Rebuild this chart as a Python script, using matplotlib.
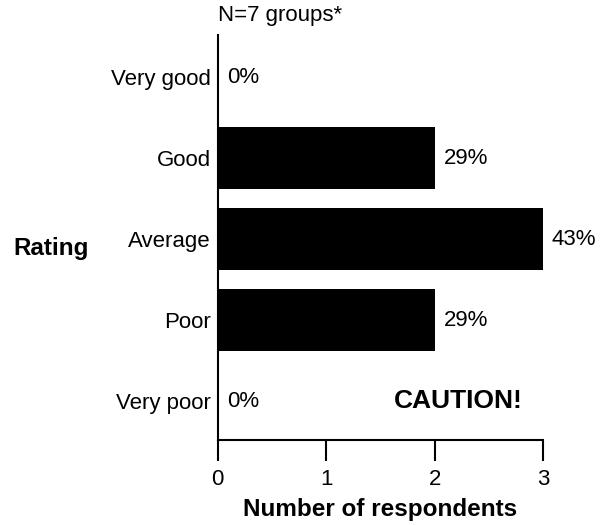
import matplotlib
matplotlib.use("Agg")
import matplotlib.pyplot as plt

categories = ["Very poor", "Poor", "Average", "Good", "Very good"]
counts = [0, 2, 3, 2, 0]
pct_labels = ["0%", "29%", "43%", "29%", "0%"]
xticks = [0, 1, 2, 3]

plt.rcParams['font.family'] = ['Liberation Sans', 'DejaVu Sans']

fig = plt.figure(figsize=(6.05, 5.25), dpi=100)
ax = fig.add_axes([0.360, 0.162, 0.5375, 0.771])

ypos = list(range(len(categories)))
ax.barh(ypos, counts, height=0.77, color="black")
for y, c, lab in zip(ypos, counts, pct_labels):
    ax.annotate(lab, xy=(c, y), xytext=(9, 0), textcoords="offset pixels",
                va="center", ha="left", fontsize=16)

ax.set_xlim(0, 3)
ax.set_ylim(-0.48, 4.52)
ax.set_xticks(xticks)
ax.set_xticklabels([str(t) for t in xticks], fontsize=16)
ax.set_yticks(ypos)
ax.set_yticklabels(categories, fontsize=16)
ax.tick_params(axis="y", length=0, pad=5)
ax.tick_params(axis="x", length=15, width=1.5, pad=6)
for s in ["top", "right"]:
    ax.spines[s].set_visible(False)
for s in ["left", "bottom"]:
    ax.spines[s].set_linewidth(1.5)

ax.set_xlabel("Number of respondents", fontsize=17.5, fontweight="bold", labelpad=6)
fig.text(51 / 605, 1 - 248 / 525, "Rating", fontsize=17.5, fontweight="bold", ha="center", va="center")
fig.text(218 / 605, 1 - 15 / 525, "N=7 groups*", fontsize=16, ha="left", va="center")
ax.text(2.215, 0, "CAUTION!", fontsize=19, fontweight="bold", ha="center", va="center")

fig.savefig("out.png", dpi=100)
